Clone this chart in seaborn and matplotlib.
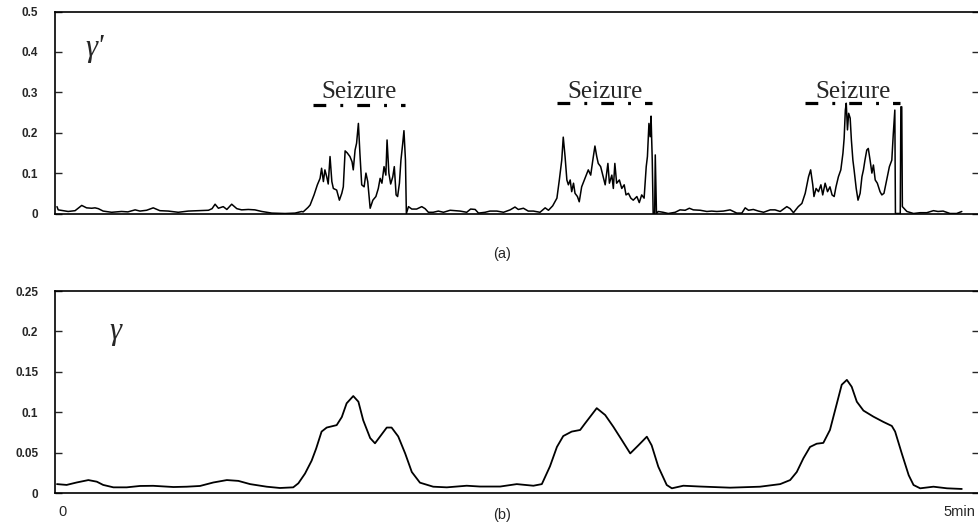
import matplotlib
matplotlib.use("Agg")
import matplotlib.pyplot as plt
import seaborn as sns
import pandas as pd

# ---------------- data ----------------
# time in seconds (0 .. 300 s = 5 min)
t_top = [0.0, 0.4, 2.0, 3.7, 6.0, 8.2, 9.8, 11.5, 12.6, 13.7, 15.3, 18.1, 21.4, 23.5, 25.9,
         27.5, 29.7, 31.9, 34.1, 36.9, 40.2, 43.5, 46.8, 50.2, 51.4, 52.4, 53.5, 55.1, 56.3,
         57.9, 59.6, 61.2, 63.4, 65.6, 67.9, 71.2, 75.6, 78.9, 81.1, 81.6, 83.2, 83.9, 85.2,
         86.3, 87.2, 87.7, 88.3, 88.8, 89.4, 89.9, 90.5, 91.1, 91.6, 92.7, 93.6, 94.4, 94.9,
         95.5, 96.2, 97.1, 97.8, 98.2, 98.8, 99.3, 99.9, 100.4, 101.0, 101.8, 102.4, 103.0,
         103.8, 104.7, 105.7, 106.5, 107.1, 107.7, 108.4, 109.0, 109.4, 110.0, 110.6, 111.3,
         111.8, 112.4, 112.9, 113.5, 114.0, 114.6, 115.0, 115.5, 115.8, 116.5, 117.6, 119.2,
         120.9, 122.0, 123.1, 124.7, 126.4, 128.1, 130.3, 131.9, 133.6, 135.8, 137.1, 138.6,
         139.7, 141.9, 143.5, 145.8, 148.0, 150.2, 151.8, 152.9, 154.6, 156.2, 157.9, 160.1,
         161.8, 162.9, 164.3, 165.7, 166.5, 167.3, 167.8, 168.4, 169.0, 169.5, 170.1, 170.6,
         171.2, 171.7, 172.5, 173.1, 173.9, 175.0, 176.1, 176.9, 177.6, 178.3, 178.9, 179.4,
         180.2, 180.9, 181.7, 182.6, 183.1, 183.9, 184.4, 184.9, 185.5, 186.4, 187.2, 188.0,
         188.6, 189.4, 190.2, 191.0, 192.2, 193.0, 193.8, 194.6, 195.3, 195.7, 196.2, 196.6,
         196.9, 197.3, 197.6, 198.1, 198.3, 198.7, 199.3, 200.9, 202.6, 204.9, 206.5, 208.2,
         209.6, 210.9, 213.2, 215.4, 217.0, 218.7, 220.9, 223.1, 225.3, 227.0, 228.1, 229.2,
         230.8, 232.5, 234.2, 236.4, 238.0, 239.7, 241.9, 243.0, 244.1, 245.7, 246.9, 248.0,
         249.1, 249.8, 250.5, 250.9, 251.6, 252.4, 253.2, 253.8, 254.6, 255.4, 256.2, 256.9,
         257.6, 258.2, 259.0, 259.8, 260.5, 260.9, 261.3, 261.6, 262.0, 262.4, 262.9, 263.3,
         263.8, 264.2, 264.9, 265.5, 266.2, 266.8, 267.3, 267.8, 268.4, 268.9, 269.5, 270.1,
         270.6, 271.2, 271.9, 272.8, 273.4, 274.1, 275.0, 275.9, 276.7, 277.2, 277.7, 277.9,
         279.5, 279.7, 280.0, 280.2, 281.7, 283.9, 286.1, 288.3, 290.5, 292.0, 293.7, 296.0,
         298.2, 299.9]
gamma_prime = [0.017, 0.009, 0.007, 0.005, 0.007, 0.020, 0.014, 0.013, 0.014, 0.012, 0.006,
               0.003, 0.005, 0.004, 0.009, 0.006, 0.008, 0.014, 0.007, 0.006, 0.003, 0.006,
               0.007, 0.008, 0.012, 0.023, 0.013, 0.017, 0.010, 0.023, 0.012, 0.009, 0.010,
               0.009, 0.005, 0.001, 0.000, 0.001, 0.005, 0.004, 0.015, 0.021, 0.046, 0.071,
               0.087, 0.112, 0.079, 0.108, 0.091, 0.073, 0.141, 0.079, 0.062, 0.058, 0.033,
               0.050, 0.066, 0.155, 0.150, 0.141, 0.128, 0.108, 0.157, 0.174, 0.223, 0.149,
               0.071, 0.066, 0.100, 0.079, 0.013, 0.033, 0.042, 0.062, 0.087, 0.075, 0.116,
               0.095, 0.182, 0.100, 0.073, 0.091, 0.116, 0.046, 0.042, 0.075, 0.132, 0.174,
               0.205, 0.132, 0.000, 0.017, 0.011, 0.011, 0.017, 0.012, 0.003, 0.003, 0.006,
               0.003, 0.008, 0.007, 0.006, 0.003, 0.011, 0.010, 0.001, 0.003, 0.006, 0.006,
               0.003, 0.009, 0.016, 0.010, 0.013, 0.006, 0.006, 0.003, 0.014, 0.008, 0.019,
               0.038, 0.083, 0.132, 0.189, 0.141, 0.083, 0.071, 0.083, 0.054, 0.075, 0.050,
               0.042, 0.029, 0.066, 0.087, 0.108, 0.095, 0.132, 0.167, 0.141, 0.124, 0.116,
               0.095, 0.071, 0.124, 0.075, 0.095, 0.062, 0.124, 0.075, 0.083, 0.062, 0.071,
               0.046, 0.050, 0.038, 0.033, 0.042, 0.027, 0.046, 0.038, 0.116, 0.141, 0.223,
               0.190, 0.241, 0.132, 0.000, 0.000, 0.145, 0.000, 0.005, 0.003, 0.000, 0.003,
               0.009, 0.008, 0.013, 0.009, 0.008, 0.005, 0.006, 0.005, 0.006, 0.009, 0.001,
               0.001, 0.014, 0.008, 0.010, 0.006, 0.003, 0.009, 0.009, 0.005, 0.017, 0.012,
               0.002, 0.017, 0.025, 0.050, 0.091, 0.108, 0.071, 0.042, 0.062, 0.054, 0.071,
               0.046, 0.075, 0.054, 0.066, 0.046, 0.042, 0.066, 0.091, 0.108, 0.149, 0.186,
               0.256, 0.273, 0.207, 0.248, 0.236, 0.182, 0.132, 0.108, 0.062, 0.033, 0.050,
               0.091, 0.108, 0.132, 0.157, 0.161, 0.132, 0.100, 0.120, 0.083, 0.075, 0.054,
               0.046, 0.050, 0.083, 0.116, 0.132, 0.198, 0.256, 0.000, 0.000, 0.264, 0.264,
               0.017, 0.005, 0.000, 0.002, 0.002, 0.007, 0.005, 0.006, 0.000, 0.000, 0.005]

t_bot = [0.0, 3.2, 6.5, 10.4, 13.2, 15.3, 18.7, 23.1, 27.5, 31.9, 38.6, 43.0, 47.4, 51.8, 56.3,
         60.1, 64.0, 69.5, 73.9, 78.3, 80.0, 82.2, 84.4, 85.9, 87.7, 89.4, 92.7, 94.4, 96.0,
         98.2, 99.9, 101.5, 103.8, 105.4, 107.1, 109.3, 110.9, 113.1, 115.4, 117.6, 120.3,
         124.7, 129.2, 135.8, 140.2, 146.9, 152.4, 157.9, 160.7, 163.4, 165.7, 167.8, 170.6,
         173.4, 175.0, 178.9, 181.7, 184.4, 187.2, 190.0, 192.7, 195.5, 197.1, 199.3, 202.1,
         203.8, 207.6, 213.2, 223.1, 233.0, 239.7, 243.0, 245.2, 247.4, 249.6, 251.8, 254.0,
         256.2, 258.5, 260.1, 261.8, 263.4, 265.1, 267.3, 270.6, 273.9, 276.7, 277.8, 280.0,
         282.3, 283.9, 286.1, 290.5, 295.0, 299.9]
gamma = [0.011, 0.010, 0.013, 0.016, 0.014, 0.010, 0.007, 0.007, 0.0087, 0.0089, 0.0074, 0.0078,
         0.0087, 0.013, 0.016, 0.015, 0.011, 0.0078, 0.0062, 0.007, 0.012, 0.024, 0.040, 0.055,
         0.076, 0.081, 0.084, 0.094, 0.111, 0.120, 0.113, 0.090, 0.068, 0.0615, 0.070, 0.081,
         0.081, 0.070, 0.049, 0.026, 0.0128, 0.0078, 0.007, 0.009, 0.008, 0.008, 0.011, 0.009,
         0.011, 0.033, 0.057, 0.0705, 0.076, 0.078, 0.086, 0.105, 0.0965, 0.082, 0.0656, 0.049,
         0.059, 0.0697, 0.059, 0.0326, 0.0099, 0.0058, 0.009, 0.008, 0.0066, 0.0078, 0.011,
         0.016, 0.026, 0.043, 0.057, 0.061, 0.062, 0.078, 0.111, 0.134, 0.140, 0.1315, 0.113,
         0.102, 0.0945, 0.088, 0.083, 0.076, 0.049, 0.022, 0.0099, 0.0058, 0.0078, 0.0058,
         0.005]

seizure_start = [84.9, 165.8, 248.0]
seizure_end = [115.3, 197.2, 279.5]
seizure_level = [0.269, 0.273, 0.273]
seizure_label = "Seizure"

top_yticks = [0, 0.1, 0.2, 0.3, 0.4, 0.5]
top_yticklabels = ["0", "0.1", "0.2", "0.3", "0.4", "0.5"]
bot_yticks = [0, 0.05, 0.1, 0.15, 0.2, 0.25]
bot_yticklabels = ["0", "0.05", "0.1", "0.15", "0.2", "0.25"]
x_ticks = [1.7, 299.0]
x_ticklabels = ["0", "5min"]

# ---------------- plotting ----------------
sns.set_style("ticks")
plt.rcParams['font.family'] = ['Liberation Sans', 'DejaVu Sans']

fig = plt.figure(figsize=(9.79, 5.30), dpi=100)
ax1 = fig.add_axes([55 / 979, 1 - 213.5 / 530, 924 / 979, 202 / 530])
ax2 = fig.add_axes([55 / 979, 1 - 493 / 530, 924 / 979, 202 / 530])

df_top = pd.DataFrame({"t": t_top, "v": gamma_prime})
df_bot = pd.DataFrame({"t": t_bot, "v": gamma})

sns.lineplot(data=df_top, x="t", y="v", ax=ax1, color="black", lw=1.1,
             estimator=None, sort=False)
sns.lineplot(data=df_bot, x="t", y="v", ax=ax2, color="black", lw=1.3,
             estimator=None, sort=False)

for s0, s1, lv in zip(seizure_start, seizure_end, seizure_level):
    ax1.plot([s0, s1], [lv, lv], color="black", lw=2.3,
             linestyle=(0, (4.0, 4.4, 0.9, 4.4)), solid_capstyle="butt")
    ax1.text((s0 + s1) / 2, 0.287, seizure_label, ha="center", va="baseline",
             fontsize=18, family="Liberation Serif")

xmin, xmax = -0.66, 305.6
for ax, ticks, labels, top in ((ax1, top_yticks, top_yticklabels, 0.5),
                               (ax2, bot_yticks, bot_yticklabels, 0.25)):
    ax.set_xlim(xmin, xmax)
    ax.set_ylim(0, top)
    ax.set_yticks(ticks)
    ax.set_yticklabels(labels, fontsize=8.5, fontweight="bold")
    ax.tick_params(axis="y", direction="in", left=True, right=True, length=5,
                   width=1.0, pad=12, labelright=False)
    ax.set_xlabel("")
    ax.set_ylabel("")
    ax.spines["right"].set_visible(False)
    for sp in ("left", "bottom", "top"):
        ax.spines[sp].set_linewidth(1.2)
        ax.spines[sp].set_color("black")

ax1.set_xticks([])
ax2.set_xticks(x_ticks)
ax2.set_xticklabels(x_ticklabels, fontsize=10.5)
ax2.tick_params(axis="x", length=0, pad=9)

ax1.text(9.5, 0.39, "γ'", fontsize=22, family="Liberation Serif", style="italic")
ax2.text(17.5, 0.19, "γ", fontsize=22, family="Liberation Serif", style="italic")

fig.text(502 / 979, 1 - 254 / 530, "(a)", ha="center", va="center", fontsize=10.5)
fig.text(502 / 979, 1 - 515 / 530, "(b)", ha="center", va="center", fontsize=10.5)

fig.savefig("out.png", dpi=100, facecolor="white")
